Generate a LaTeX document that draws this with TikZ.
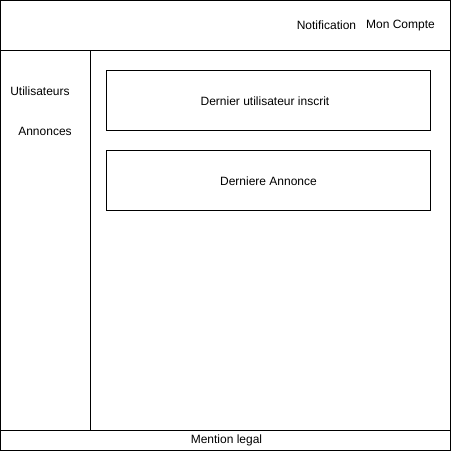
\documentclass[tikz,border=0pt]{standalone}
\usepackage{fontspec}
\setmainfont{Liberation Sans}
\usepackage{tikz}

\begin{document}
\begin{tikzpicture}[x=1pt,y=-1pt,
                    every node/.style={font=\fontsize{12}{14}\selectfont,inner sep=0pt},
                    frame/.style={draw=black,line width=1pt},
                    panel/.style={draw=black,line width=1pt,minimum width=324pt,minimum height=60pt}]
\useasboundingbox (0,0) rectangle (451,451);
% page frame
\draw[frame] (0.5,0.5) rectangle (450.5,450.5);
\coordinate (headL) at (0.5,50.5);
\coordinate (headR) at (450.5,50.5);
\coordinate (footL) at (0.5,430.5);
\coordinate (footR) at (450.5,430.5);
\coordinate (sideT) at (90.5,50.5);
\coordinate (sideB) at (90.5,430.5);
\draw[frame] (headL) -- (headR);
\draw[frame] (footL) -- (footR);
\draw[frame] (sideT) -- (sideB);
% header
\node (notif) at (326.5,25.5) {Notification};
\node (compte) at (400.5,25.5) {Mon Compte};
% menu
\node (users) at (40,91.5) {Utilisateurs};
\node (annonces) at (45,131.5) {Annonces};
% content
\node[panel,label={[xshift=-3.5pt,yshift=-1pt]center:Dernier utilisateur inscrit}] (lastuser) at (268.5,100.5) {};
\node[panel,label={[yshift=-1pt]center:Derniere Annonce}] (lastad) at (268.5,180.5) {};
% footer
\node (legal) at (226.5,440.5) {Mention legal};
\end{tikzpicture}
\end{document}
